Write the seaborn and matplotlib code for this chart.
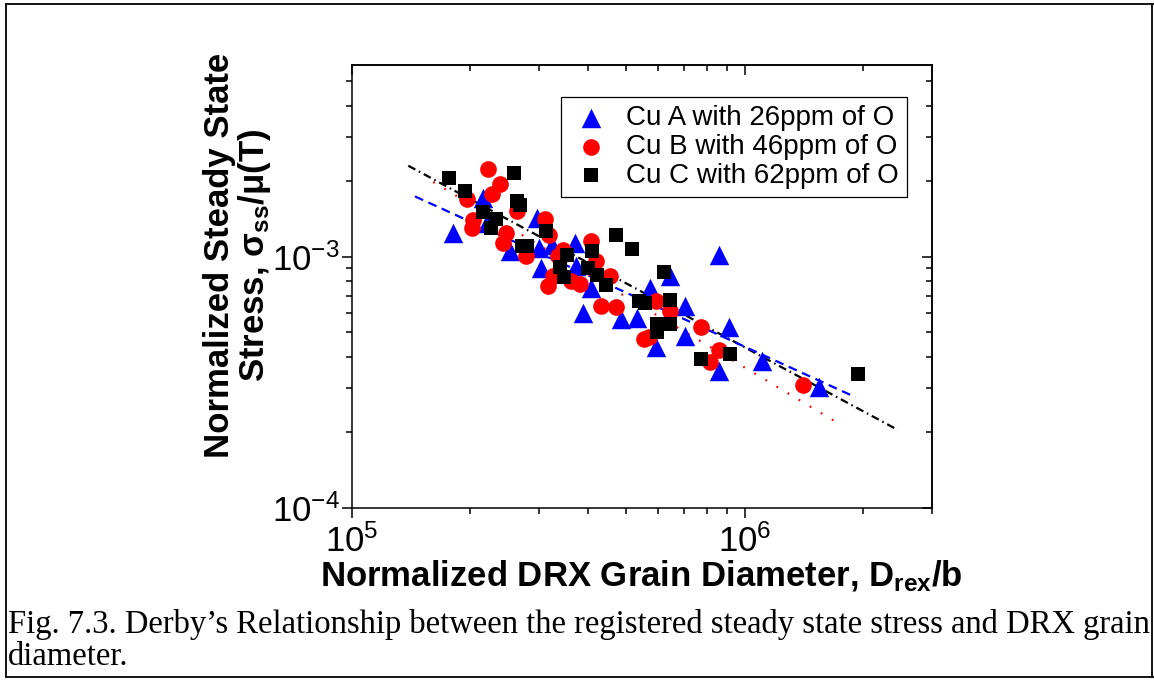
import matplotlib
matplotlib.use('Agg')
import pandas as pd
from matplotlib import pyplot as plt
from matplotlib.lines import Line2D
from matplotlib.ticker import NullFormatter
import seaborn as sns


# Cu A with 26ppm of O
cu_a_d = [2.154e5, 1.804e5, 2.951e5, 2.524e5, 2.991e5, 3.231e5, 3.693e5, 3.73e5,
          3.021e5, 4.073e5, 3.87e5, 4.837e5, 5.321e5, 5.732e5, 6.444e5, 8.587e5,
          7.036e5, 7.036e5, 5.962e5, 9.106e5, 8.587e5, 1.107e6, 1.543e6, 2.201e5]
cu_a_s = [1.714e-3, 1.243e-3, 1.426e-3, 1.050e-3, 1.086e-3, 1.116e-3, 1.134e-3, 9.15e-4,
          9.02e-4, 7.52e-4, 5.97e-4, 5.65e-4, 5.70e-4, 7.50e-4, 8.40e-4, 1.018e-3,
          6.38e-4, 4.84e-4, 4.39e-4, 5.25e-4, 3.51e-4, 3.86e-4, 3.04e-4, 1.362e-3]

# Cu B with 46ppm of O
cu_b_d = [2.215e5, 2.38e5, 2.278e5, 1.958e5, 2.625e5, 2.035e5, 2.016e5, 3.098e5,
          2.465e5, 2.427e5, 2.768e5, 3.171e5, 4.073e5, 4.189e5, 3.449e5, 3.349e5,
          3.241e5, 3.158e5, 3.608e5, 3.803e5, 4.548e5, 4.314e5, 4.691e5, 5.544e5,
          5.708e5, 5.962e5, 6.444e5, 7.727e5, 8.587e5, 8.18e5, 1.407e6]
cu_b_s = [2.236e-3, 1.948e-3, 1.774e-3, 1.698e-3, 1.516e-3, 1.404e-3, 1.305e-3, 1.417e-3,
          1.243e-3, 1.132e-3, 1.003e-3, 1.223e-3, 1.156e-3, 9.61e-4, 1.066e-3, 1.009e-3,
          8.35e-4, 7.66e-4, 8.0e-4, 7.76e-4, 8.35e-4, 6.39e-4, 6.29e-4, 4.70e-4,
          4.81e-4, 6.68e-4, 6.11e-4, 5.25e-4, 4.26e-4, 3.81e-4, 3.09e-4]

# Cu C with 62ppm of O
cu_c_d = [1.769e5, 1.939e5, 2.588e5, 2.63e5, 2.676e5, 2.159e5, 2.321e5, 2.254e5,
          2.703e5, 2.783e5, 3.111e5, 3.53e5, 4.088e5, 4.716e5, 5.179e5, 3.382e5,
          3.462e5, 3.993e5, 4.209e5, 4.447e5, 5.383e5, 5.566e5, 6.222e5, 6.471e5,
          5.982e5, 5.982e5, 6.471e5, 7.76e5, 9.16e5, 1.943e6]
cu_c_s = [2.058e-3, 1.821e-3, 2.156e-3, 1.672e-3, 1.612e-3, 1.502e-3, 1.413e-3, 1.301e-3,
          1.099e-3, 1.099e-3, 1.269e-3, 1.018e-3, 1.056e-3, 1.223e-3, 1.076e-3, 9.10e-4,
          8.30e-4, 9.02e-4, 8.48e-4, 7.73e-4, 6.64e-4, 6.56e-4, 8.66e-4, 6.74e-4,
          5.41e-4, 5.04e-4, 5.41e-4, 3.91e-4, 4.11e-4, 3.42e-4]

# fitted Derby lines (end points)
fit_a_d = [1.447e5, 1.916e6]
fit_a_s = [1.739e-3, 2.761e-4]
fit_b_d = [1.61e5, 1.704e6]
fit_b_s = [1.984e-3, 2.207e-4]
fit_c_d = [1.391e5, 2.455e6]
fit_c_s = [2.304e-3, 2.045e-4]

labels = ['Cu A with 26ppm of O', 'Cu B with 46ppm of O', 'Cu C with 62ppm of O']

sns.set_style('ticks')
plt.rcParams['font.family'] = ['Liberation Sans', 'DejaVu Sans']
plt.rcParams['mathtext.fontset'] = 'custom'
plt.rcParams['mathtext.rm'] = 'Liberation Sans'
plt.rcParams['mathtext.it'] = 'Liberation Sans:italic'
plt.rcParams['mathtext.bf'] = 'Liberation Sans:bold'
for k in ['text.color', 'axes.labelcolor', 'xtick.color', 'ytick.color', 'axes.edgecolor']:
    plt.rcParams[k] = 'black'

fig = plt.figure(figsize=(11.54, 6.8), dpi=100)
ax = fig.add_axes([352 / 1154, 1 - 508 / 680, 580 / 1154, 443 / 680])

# fit lines first, points on top
sns.lineplot(x=fit_c_d, y=fit_c_s, ax=ax, color='black', lw=1.6,
             linestyle=(0, (3.6, 1.8, 0.7, 1.8)), sort=False, legend=False)
sns.lineplot(x=fit_a_d, y=fit_a_s, ax=ax, color='blue', lw=1.6,
             linestyle=(0, (4, 2.6)), sort=False, legend=False)
sns.lineplot(x=fit_b_d, y=fit_b_s, ax=ax, color='red', lw=1.6,
             linestyle=(0, (0.8, 5)), sort=False, legend=False)

sns.scatterplot(x=cu_a_d, y=cu_a_s, ax=ax, marker='^', s=14 ** 2, color='blue',
                edgecolor='blue', linewidth=0, label=labels[0], zorder=3)
sns.scatterplot(x=cu_b_d, y=cu_b_s, ax=ax, marker='o', s=12 ** 2, color='red',
                edgecolor='red', linewidth=0, label=labels[1], zorder=3)
sns.scatterplot(x=cu_c_d, y=cu_c_s, ax=ax, marker='s', s=10.5 ** 2, color='black',
                edgecolor='black', linewidth=0, label=labels[2], zorder=3)

ax.set_xscale('log')
ax.set_yscale('log')
ax.set_xlim(1e5, 3e6)
ax.set_ylim(1e-4, 5.8e-3)
ax.xaxis.set_minor_formatter(NullFormatter())
ax.yaxis.set_minor_formatter(NullFormatter())

for sp in ax.spines.values():
    sp.set_linewidth(1.1)
    sp.set_color('black')
ax.tick_params(which='both', direction='out', top=False, right=False,
               width=1.1, color='black', labelsize=25)
ax.tick_params(axis='x', pad=5)
ax.tick_params(axis='y', pad=2)
ax.tick_params(which='major', length=7)
ax.tick_params(which='minor', length=4.5)

# inward ticks on top and right
secx = ax.secondary_xaxis('top')
secx.tick_params(which='both', direction='in', labeltop=False, width=1.1)
secx.tick_params(which='major', length=7)
secx.tick_params(which='minor', length=4.5)
secx.xaxis.set_minor_formatter(NullFormatter())
secy = ax.secondary_yaxis('right')
secy.tick_params(which='both', direction='in', labelright=False, width=1.1)
secy.tick_params(which='major', length=7)
secy.tick_params(which='minor', length=4.5)
secy.yaxis.set_minor_formatter(NullFormatter())
for sp in list(secx.spines.values()) + list(secy.spines.values()):
    sp.set_linewidth(1.1)

ax.set_xlabel('')
ax.set_ylabel('')

leg = ax.legend(loc='upper right', bbox_to_anchor=(0.957, 0.928), fontsize=20,
                frameon=True, fancybox=False, framealpha=1, edgecolor='black',
                borderpad=0.3, labelspacing=0.1, handletextpad=0.45,
                handlelength=1.6, borderaxespad=0)
leg.get_frame().set_linewidth(0.9)

fig.text(641 / 1154, 1 - 586 / 680,
         r'Normalized DRX Grain Diameter, D$_{\mathbf{rex}}$/b',
         ha='center', va='baseline', fontsize=25, fontweight='bold')
fig.text(238 / 1154, 1 - 255 / 680,
         'Normalized Steady State\n' + r'Stress, σ$_{\mathbf{ss}}$/μ(T)',
         ha='center', va='center', rotation=90, fontsize=25,
         fontweight='bold', multialignment='center', linespacing=1.02)

fig.text(8 / 1154, 1 - 633 / 680,
         'Fig. 7.3. Derby\u2019s Relationship between the registered steady state stress and DRX grain',
         family=['Liberation Serif'], fontsize=23.5, va='baseline')
fig.text(8 / 1154, 1 - 665 / 680, 'diameter.',
         family=['Liberation Serif'], fontsize=23.5, va='baseline')

# frame around the whole figure
kw = dict(transform=fig.transFigure, color='black', lw=1.3)
fig.add_artist(Line2D([6 / 1154, 6 / 1154], [1 - 4 / 680, 1 - 677 / 680], **kw))
fig.add_artist(Line2D([6 / 1154, 1], [1 - 4 / 680, 1 - 4 / 680], **kw))
fig.add_artist(Line2D([6 / 1154, 1], [1 - 677 / 680, 1 - 677 / 680], **kw))
fig.add_artist(Line2D([1152 / 1154, 1152 / 1154], [1 - 4 / 680, 1 - 677 / 680], **kw))

fig.savefig('out.png', dpi=100)
